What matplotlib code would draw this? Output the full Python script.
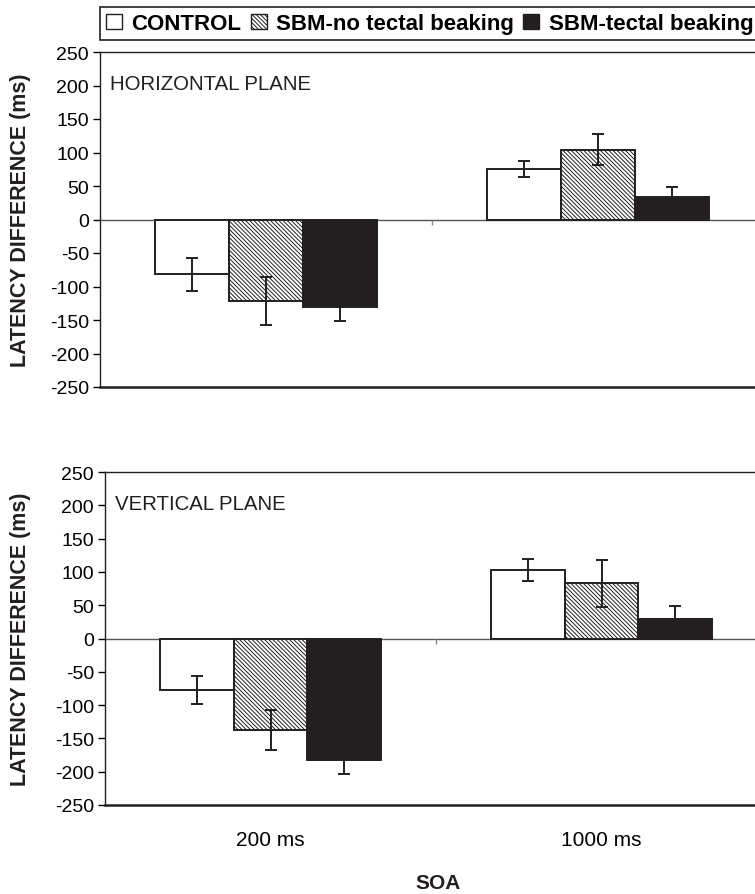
import matplotlib
matplotlib.use("Agg")
import matplotlib.pyplot as plt
from matplotlib.patches import Patch
import numpy as np

plt.rcParams['font.family'] = ['Liberation Sans', 'DejaVu Sans']
plt.rcParams['hatch.linewidth'] = 0.7

# ---- data ----
soa_labels = ["200 ms", "1000 ms"]
series_names = ["CONTROL", "SBM-no tectal beaking", "SBM-tectal beaking"]
panel_titles = ["HORIZONTAL PLANE", "VERTICAL PLANE"]

horiz_means = [[-82, 75], [-122, 104], [-130, 34]]
horiz_errs = [[24, 12], [36, 23], [21, 14]]
vert_means = [[-78, 103], [-137, 83], [-183, 29]]
vert_errs = [[21, 17], [30, 35], [21, 20]]

yticks = [250, 200, 150, 100, 50, 0, -50, -100, -150, -200, -250]

facecolors = ["white", "white", "#231f20"]
hatches = [None, "\\\\\\\\\\\\\\\\", None]

W, H = 755, 895
fig = plt.figure(figsize=(W / 100, H / 100), dpi=100)

def fx(px):
    return px / W

def fy(py):
    return 1 - py / H

ax_top = fig.add_axes([fx(100), fy(388), fx(664), (388 - 53) / H])
ax_bot = fig.add_axes([fx(105), fy(806), fx(662), (806 - 473) / H])

bw = 0.223
x = np.arange(len(soa_labels))

for ax, means, errs, title, lx in [(ax_top, horiz_means, horiz_errs, panel_titles[0], -0.104),
                                   (ax_bot, vert_means, vert_errs, panel_titles[1], -0.112)]:
    for i in range(3):
        pos = x + (i - 1) * bw
        ax.bar(pos, means[i], width=bw, color=facecolors[i], edgecolor="#231f20",
               linewidth=1.4, hatch=hatches[i], zorder=2)
        ax.errorbar(pos, means[i], yerr=errs[i], fmt="none", ecolor="#231f20",
                    elinewidth=1.4, capsize=4.5, capthick=1.4, zorder=3)
    ax.set_xlim(-0.5, 1.5)
    ax.set_ylim(-250, 250)
    ax.set_yticks(yticks)
    ax.set_yticklabels([str(t) for t in yticks], fontsize=14)
    ax.tick_params(axis="y", direction="out", length=5, width=1, pad=3)
    ax.axhline(0, color="#555555", lw=1.0, zorder=1)
    ax.vlines(0.5, -8, 0, color="#888888", lw=1.0, zorder=1)
    ax.spines["right"].set_visible(False)
    for s in ["left", "top", "bottom"]:
        ax.spines[s].set_color("#231f20")
    ax.spines["left"].set_linewidth(1.0)
    ax.spines["top"].set_linewidth(1.0)
    ax.spines["bottom"].set_linewidth(1.8)
    ax.text(0.015, 0.905, title, transform=ax.transAxes, fontsize=14.7,
            ha="left", va="center", color="#231f20")
    ax.set_ylabel("LATENCY DIFFERENCE (ms)", fontsize=15.5, fontweight="bold",
                  color="#231f20")
    ax.yaxis.set_label_coords(lx, 0.5)

ax_top.set_xticks([])
ax_bot.set_xticks(x)
ax_bot.set_xticklabels(soa_labels, fontsize=15)
ax_bot.tick_params(axis="x", length=0, pad=18)
fig.text(fx(438), fy(884), "SOA", fontsize=15, fontweight="bold",
         ha="center", va="center", color="#231f20")

handles = [Patch(facecolor=facecolors[i], edgecolor="#231f20", hatch=hatches[i], lw=1.0)
           for i in range(3)]
leg = fig.legend(handles, series_names, loc="upper left",
                 bbox_to_anchor=(fx(100), fy(8)), ncol=3, frameon=True,
                 fancybox=False, edgecolor="#231f20", framealpha=1,
                 prop={"weight": "bold", "size": 16}, handlelength=0.72,
                 handleheight=0.72, handletextpad=0.42, columnspacing=0.42,
                 borderpad=0.28, borderaxespad=0)
leg.get_frame().set_linewidth(1.2)

fig.savefig("out.png", dpi=100)
